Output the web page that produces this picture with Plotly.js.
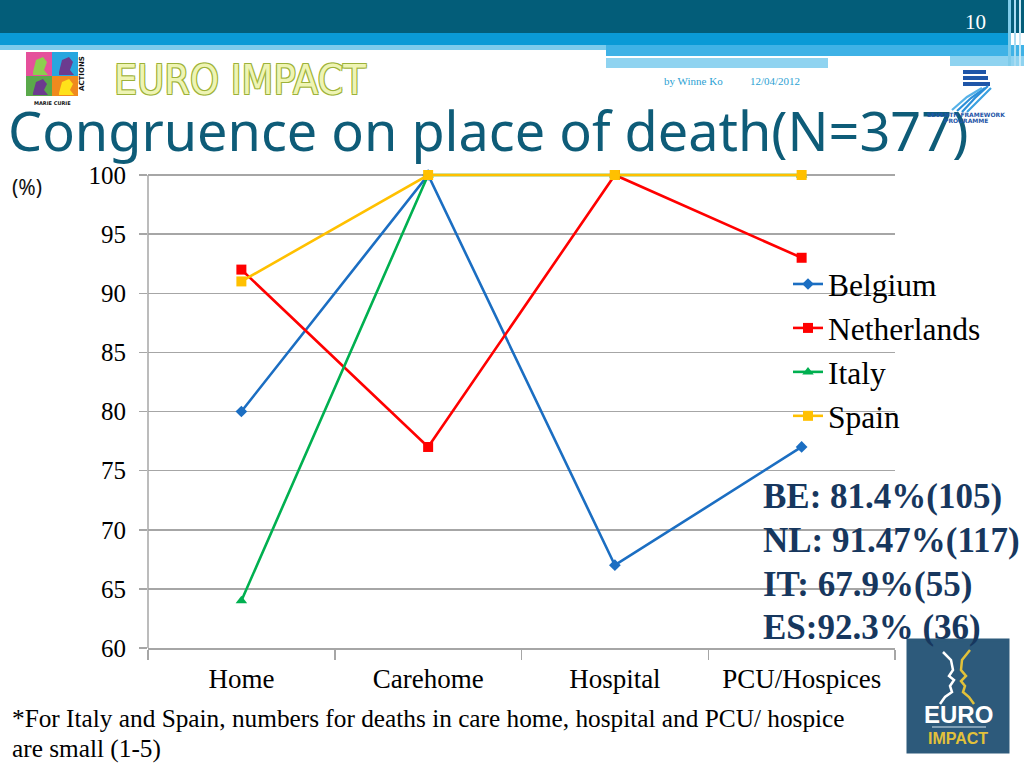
<!DOCTYPE html>
<html>
<head>
<meta charset="utf-8">
<script src="https://cdn.plot.ly/plotly-3.0.1.min.js"></script>
<style>html,body{margin:0;padding:0;background:#fff;}#chart{width:1024px;height:768px;}</style>
</head>
<body>
<div id="chart"></div>
<script>
// ---- data ----
const categories = ['Home', 'Carehome', 'Hospital', 'PCU/Hospices'];
const belgium = [80, 100, 67, 77];
const netherlands = [92, 77, 100, 93];
const italy = [64, 100, 100, 100];
const spain = [91, 100, 100, 100];
const yTickVals = [60, 65, 70, 75, 80, 85, 90, 95, 100];
const seriesNames = ['Belgium', 'Netherlands', 'Italy', 'Spain'];
const summaryLines = ['BE: 81.4%(105)', 'NL: 91.47%(117)', 'IT: 67.9%(55)', 'ES:92.3% (36)'];
const titleText = 'Congruence on place of death(N=377)';
const footnoteLines = ['*For Italy and Spain, numbers for deaths in care home, hospital and PCU/ hospice', 'are small (1-5)'];

// ---- geometry helpers (pixel -> paper) ----
const L = 148, R = 895, T = 171, B = 648;
const Y100 = 175; // pixel row of the 100 gridline
const W = R - L, H = B - T;
const yTop = 60 + 40 * (B - T) / (B - Y100);
const px = x => (x - L) / W;
const py = y => (B - y) / H;
function rect(x0, y0, x1, y1, color, extra) {
  return Object.assign({type: 'rect', xref: 'paper', yref: 'paper', x0: px(x0), x1: px(x1), y0: py(y1), y1: py(y0),
    fillcolor: color, line: {width: 0}, layer: 'below'}, extra || {});
}
function path(pts, fill, lineColor, lw, close) {
  let d = pts.map((p, i) => (i ? 'L' : 'M') + px(p[0]).toFixed(5) + ',' + py(p[1]).toFixed(5)).join(' ');
  if (close) d += ' Z';
  return {type: 'path', xref: 'paper', yref: 'paper', path: d, fillcolor: fill || 'rgba(0,0,0,0)',
    line: {color: lineColor || 'rgba(0,0,0,0)', width: lw || 0}, layer: 'above'};
}
function txt(x, y, text, font, xa, ya, extra) {
  return Object.assign({xref: 'paper', yref: 'paper', x: px(x), y: py(y), text: text, showarrow: false,
    xanchor: xa || 'left', yanchor: ya || 'middle', font: font}, extra || {});
}

const colors = ['#1b6ec2', '#ff0000', '#00b050', '#ffc000'];
const symbols = ['diamond', 'square', 'triangle-up', 'square'];
const msizes = [9, 10, 10, 10];
const allSeries = [belgium, netherlands, italy, spain];

const traces = allSeries.map((vals, i) => ({
  type: 'scatter', mode: 'lines+markers', x: categories, y: vals, name: seriesNames[i],
  line: {color: colors[i], width: 2.6},
  marker: {color: colors[i], symbol: symbols[i], size: msizes[i]},
  cliponaxis: false, legendgroup: 'g' + i
}));

const shapes = [
  // header bands
  rect(0, 0, 1024, 33, '#035d79'),
  rect(0, 33, 1010, 45, '#0a9ad6'),
  rect(0, 45, 606, 50, '#7ccbec'),
  rect(606, 45, 1024, 56, '#3fb2e6'),
  rect(606, 56, 950, 58, '#ffffff'),
  rect(606, 58, 828, 68, '#8fd3f0'),
  rect(950, 56, 1024, 66, '#8fd3f0'),
  rect(1008, 0, 1011, 66, '#7fcbe9'),
  rect(1014, 0, 1016, 66, '#a9dcf2'),
  rect(1019, 0, 1021, 66, '#c7e8f6'),
  // Marie Curie logo squares
  rect(26, 52, 52, 76, '#e5509b'),
  rect(52, 52, 78, 76, '#27a6df'),
  rect(26, 76, 52, 96, '#5aa94b'),
  rect(52, 76, 78, 96, '#f08a1e'),
  path([[33, 72], [36, 60], [43, 57], [47, 62], [44, 70], [48, 75], [33, 75]], '#8ccf4e', null, 0, true),
  path([[59, 72], [62, 60], [69, 57], [73, 62], [70, 70], [74, 75], [59, 75]], '#6c3b8f', null, 0, true),
  path([[33, 93], [36, 82], [43, 79], [47, 84], [44, 90], [48, 95], [33, 95]], '#6c3b8f', null, 0, true),
  path([[59, 93], [62, 82], [69, 79], [73, 84], [70, 90], [74, 95], [59, 95]], '#ffe11a', null, 0, true),
  // FP7 logo
  rect(963, 70, 986, 74, '#1f56a8', {layer: 'above'}),
  rect(963, 76, 988, 80, '#1f56a8', {layer: 'above'}),
  rect(963, 82, 990, 86, '#1f56a8', {layer: 'above'}),
  path([[988, 86], [975, 98], [962, 112]], null, '#2c8fd8', 2.2),
  path([[991, 88], [979, 100], [967, 112]], null, '#3aa0e0', 2.2),
  path([[985, 88], [971, 98], [957, 111]], null, '#2c8fd8', 2.2),
  path([[982, 88], [967, 97], [952, 110]], null, '#56b2e8', 2.2),
  // EURO IMPACT logo bottom right
  {type: 'rect', xref: 'paper', yref: 'paper', x0: px(908), x1: px(1008), y0: py(752), y1: py(640),
    fillcolor: '#2d5a7b', line: {color: '#2d5a7b', width: 3}, layer: 'above'},
  path([[943, 652], [951, 660], [953, 670], [949, 676], [954, 680], [950, 686], [952, 692], [945, 697], [940, 704]], null, '#ffffff', 2.5),
  path([[970, 650], [962, 660], [961, 670], [966, 676], [961, 681], [965, 686], [963, 692], [969, 697], [974, 704]], null, '#e2c13a', 2.5),
  path([[932, 727], [986, 727]], null, '#9fb8c8', 1.5)
];

const annotations = [
  txt(975, 22, '10', {family: 'Liberation Serif', size: 21, color: '#ffffff'}, 'center'),
  txt(112, 80, 'EURO IMPACT', {family: 'DejaVu Sans Condensed, DejaVu Sans', size: 41, color: '#eef4b4',
    shadow: '1px 1px 0 #9db23a, -1px -1px 0 #9db23a, 1px -1px 0 #9db23a, -1px 1px 0 #9db23a'}),
  txt(52, 103, 'MARIE CURIE', {family: 'DejaVu Sans', size: 5, color: '#111111', weight: 'bold'}, 'center'),
  txt(82, 74, 'ACTIONS', {family: 'DejaVu Sans', size: 7, color: '#111111', weight: 'bold'}, 'center', 'middle', {textangle: -90}),
  txt(662, 81, 'by Winne Ko', {family: 'Liberation Serif', size: 11, color: '#2c9fd3'}),
  txt(748, 81, '12/04/2012', {family: 'Liberation Serif', size: 11, color: '#2c9fd3'}),
  txt(966, 115, 'SEVENTH FRAMEWORK', {family: 'DejaVu Sans', size: 6, color: '#1f56a8', weight: 'bold'}, 'center'),
  txt(966, 121, 'PROGRAMME', {family: 'DejaVu Sans', size: 6, color: '#1f56a8', weight: 'bold'}, 'center'),
  txt(10, 187, '(%)', {family: 'Noto Sans', size: 21, color: '#111111'}),
  txt(958, 714, 'EURO', {family: 'Liberation Sans Narrow, Liberation Sans', size: 24, color: '#ffffff', weight: 'bold'}, 'center'),
  txt(958, 738, 'IMPACT', {family: 'Liberation Sans Narrow, Liberation Sans', size: 16, color: '#e2c13a', weight: 'bold'}, 'center')
];
summaryLines.forEach((s, i) => {
  annotations.push(txt(761, 497 + i * 43.5, '<b>' + s + '</b>', {family: 'Liberation Serif', size: 35, color: '#17375e'}));
});
footnoteLines.forEach((s, i) => {
  annotations.push(txt(10, 718 + i * 30, s, {family: 'Liberation Serif', size: 25.3, color: '#000000'}));
});

const layout = {
  width: 1024, height: 768,
  margin: {l: L, r: 1024 - R, t: T, b: 768 - B, pad: 0},
  paper_bgcolor: '#ffffff', plot_bgcolor: 'rgba(0,0,0,0)',
  showlegend: true,
  title: {text: titleText, xref: 'container', yref: 'container', x: 8 / 1024, y: 1 - 132 / 768,
    xanchor: 'left', yanchor: 'middle', font: {family: 'Noto Sans', size: 54, color: '#0e5c78'}},
  xaxis: {type: 'category', range: [-0.5, 3.5], showline: true, linecolor: '#a6a6a6', linewidth: 1.5,
    ticks: 'outside', tickson: 'boundaries', ticklen: 10, tickcolor: '#a6a6a6', tickwidth: 1.5,
    ticklabelstandoff: 6,
    showgrid: false, tickfont: {family: 'Liberation Serif', size: 27, color: '#000000'}, fixedrange: true},
  yaxis: {range: [60, yTop], tickvals: yTickVals, showline: false,
    ticks: 'outside', ticklen: 8, tickcolor: '#a6a6a6', tickwidth: 1.5,
    showgrid: true, gridcolor: '#a6a6a6', gridwidth: 1.5, zeroline: false,
    ticklabelstandoff: 8,
    tickfont: {family: 'Liberation Serif', size: 25, color: '#000000'}, fixedrange: true},
  legend: {x: px(788), y: py(257), xanchor: 'left', yanchor: 'top', bgcolor: 'rgba(0,0,0,0)',
    font: {family: 'Liberation Serif', size: 31.5, color: '#000000'}, traceorder: 'grouped', tracegroupgap: 0,
    itemwidth: 30},
  shapes: shapes.concat([
    // y axis line from 60 to 100 only
    {type: 'line', xref: 'paper', yref: 'y', x0: 0, x1: 0, y0: 60, y1: 100, line: {color: '#a6a6a6', width: 1.5}, layer: 'below'}
  ]),
  annotations: annotations
};

Plotly.newPlot('chart', traces, layout, {displayModeBar: false, staticPlot: true});
</script>
</body>
</html>
